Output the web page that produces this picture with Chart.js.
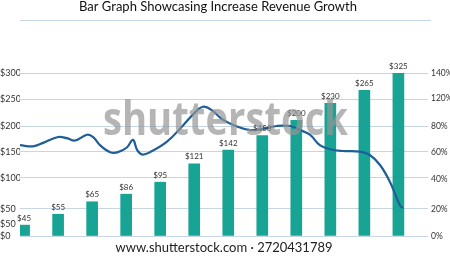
<!DOCTYPE html>
<html>
<head>
<meta charset="utf-8">
<script src="https://cdn.jsdelivr.net/npm/chart.js@4"></script>
<style>
  html, body { margin: 0; padding: 0; background: #fff; overflow: hidden; }
  #wrap { width: 450px; height: 258px; position: relative; }
</style>
</head>
<body>
<div id="wrap"><canvas id="growthChart"></canvas></div>
<script>
// Chart data
const revenue = [45, 55, 65, 86, 95, 121, 142, 158, 200, 230, 265, 325];
// bar heights as they sit on the left axis
const barLevel = [20, 40, 63, 77, 99, 133, 158, 185, 213, 244, 268, 300];

// growth curve: x in bar slots, y in percent on the right axis
const growthX = [-0.12, 0.26, 0.56, 1.0, 1.26, 1.5, 1.85, 2.03, 2.23, 2.53, 2.76, 3.02, 3.2, 3.32, 3.47, 3.7,
    4.2, 4.67, 5.02, 5.26, 5.52, 5.84, 6.26, 6.64, 7.02, 7.43, 7.81, 8.11, 8.4, 8.69, 8.99, 9.37, 9.87,
    10.16, 10.46, 10.75, 11.04, 11.13];
const growthPct = [78, 77, 80, 85, 84, 82, 87, 85, 78, 72, 72, 76, 82.5, 74, 70, 72,
    81, 95, 106, 111, 108, 100, 94, 91, 92, 94.5, 94.5, 91, 87, 78, 74.5, 73, 72.4,
    69.6, 61, 46.6, 26.6, 24];

// tick labels (the reference axes are not evenly labelled)
const leftTickValues = [0, 22, 50, 107, 155, 202, 252, 300];
const leftTickLabels = ['$0', '$50', '$50', '$100', '$150', '$200', '$250', '$300'];
const rightTickValues = [0, 23, 49, 72, 94.5, 118, 140];
const rightTickLabels = ['0%', '20%', '40%', '60%', '80%', '120%', '140%'];

const titleText = 'Bar Graph Showcasing Increase Revenue Growth';
const footerText = 'www.shutterstock.com \u00b7 2720431789';

const gridColor = '#c6d6e5';

// Extra drawing: title, rule, value labels, watermark, footer
const overlayPlugin = {
    id: 'overlay',
    afterDatasetsDraw(chart) {
        const ctx = chart.ctx;
        const meta = chart.getDatasetMeta(1);
        ctx.save();
        ctx.fillStyle = '#333';
        ctx.font = '8px Lato';
        ctx.textAlign = 'center';
        ctx.textBaseline = 'bottom';
        meta.data.forEach((bar, i) => {
            ctx.fillText('$' + revenue[i], bar.x, bar.y - 3);
        });

        // watermark
        ctx.fillStyle = 'rgba(150, 150, 150, 0.7)';
        ctx.font = 'bold 46px "Open Sans"';
        ctx.textAlign = 'left';
        ctx.textBaseline = 'alphabetic';
        ctx.fillText('shutterstock', 103, 135, 245);
        ctx.restore();
    },
    afterDraw(chart) {
        const ctx = chart.ctx;
        ctx.save();
        ctx.fillStyle = '#111';
        ctx.font = '13px Lato';
        ctx.textAlign = 'center';
        ctx.textBaseline = 'middle';
        ctx.fillText(titleText, 218, 7);

        ctx.strokeStyle = gridColor;
        ctx.lineWidth = 1;
        ctx.beginPath();
        ctx.moveTo(20, 20.5);
        ctx.lineTo(431, 20.5);
        ctx.stroke();

        ctx.fillStyle = '#222';
        ctx.font = '13px Lato';
        ctx.fillText(footerText, 224, 248);
        ctx.restore();
    }
};

const chartCtx = document.getElementById('growthChart').getContext('2d');
const growthChart = new Chart(chartCtx, {
    data: {
        datasets: [{
            type: 'line',
            data: growthX.map((x, i) => ({ x: x, y: growthPct[i] })),
            yAxisID: 'y1',
            borderColor: '#1f5e98',
            borderWidth: 2.2,
            pointRadius: 0,
            tension: 0.4,
            order: 0
        }, {
            type: 'bar',
            data: barLevel.map((v, i) => ({ x: i, y: v })),
            yAxisID: 'y',
            backgroundColor: '#17a495',
            barThickness: 11,
            order: 1
        }]
    },
    options: {
        responsive: true,
        maintainAspectRatio: false,
        animation: false,
        layout: {
            padding: { top: 73, bottom: 22, left: 0, right: 0 }
        },
        plugins: {
            legend: { display: false },
            tooltip: { enabled: false }
        },
        scales: {
            x: {
                type: 'linear',
                offset: false,
                min: -0.12,
                max: 11.87,
                display: false
            },
            y: {
                position: 'left',
                min: 0,
                max: 300,
                afterBuildTicks: axis => {
                    axis.ticks = leftTickValues.map(v => ({ value: v }));
                },
                afterFit: axis => { axis.width = 20; },
                border: { display: false },
                grid: {
                    drawTicks: false,
                    color: c => (c.tick && c.tick.value === 22) ? 'rgba(0,0,0,0)' : gridColor,
                    lineWidth: 1
                },
                ticks: {
                    crossAlign: 'far',
                    padding: 2,
                    color: '#333',
                    font: { family: 'Lato', size: 9 },
                    callback: (v, i) => leftTickLabels[i]
                }
            },
            y1: {
                position: 'right',
                min: 0,
                max: 140,
                afterBuildTicks: axis => {
                    axis.ticks = rightTickValues.map(v => ({ value: v }));
                },
                afterFit: axis => { axis.width = 22; },
                border: { display: false },
                grid: { display: false, drawTicks: false },
                ticks: {
                    padding: 3,
                    color: '#333',
                    font: { family: 'Lato', size: 8.5 },
                    callback: (v, i) => rightTickLabels[i]
                }
            }
        }
    },
    plugins: [overlayPlugin]
});
</script>
</body>
</html>
